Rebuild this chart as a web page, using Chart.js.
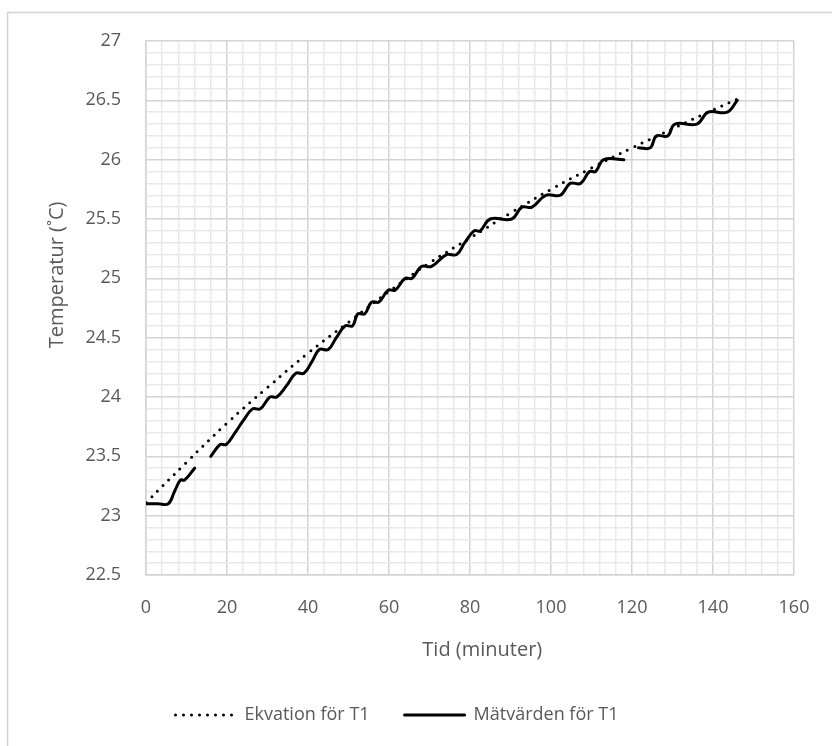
<!DOCTYPE html>
<html><head><meta charset="utf-8">
<script src="https://cdn.jsdelivr.net/npm/chart.js@4/dist/chart.umd.min.js"></script>
<style>html,body{margin:0;padding:0;background:#fff}</style>
</head><body>
<canvas id="c" width="832" height="746"></canvas>
<script>
// Fitted equation (dotted)
const eqTime = [0, 10, 20, 30, 40, 50, 60, 70, 80, 90, 100, 110, 120, 130, 140, 146];
const eqTemp = [23.11, 23.45, 23.78, 24.08, 24.37, 24.63, 24.89, 25.13, 25.34, 25.55, 25.75, 25.93, 26.10, 26.26, 26.42, 26.51];

// Measured values (solid), null = gap in the recording
const measTime = [0, 3, 5.5, 7, 8.5, 9.5, 12, 14,
  16, 18.3, 19.8, 22, 24, 26.3, 28.2, 30.6, 32.3, 34.8, 37, 39, 41, 42.8, 45, 47, 49.2, 51,
  52.3, 54, 55.7, 57.5, 59.8, 61.5, 64, 65.7, 68, 70.5, 74.2, 76.7, 78.7, 81, 82.5, 85, 90.3,
  92.8, 95.3, 98.7, 102.3, 104.7, 107.3, 109.5, 111, 113, 118, 120,
  121.6, 124.5, 126, 128.8, 130.6, 136, 138.8, 143.5, 146];
const measTemp = [23.1, 23.1, 23.1, 23.2, 23.3, 23.3, 23.4, null,
  23.5, 23.6, 23.6, 23.7, 23.8, 23.9, 23.9, 24.0, 24.0, 24.1, 24.2, 24.2, 24.3, 24.4, 24.4, 24.5, 24.6, 24.6,
  24.7, 24.7, 24.8, 24.8, 24.9, 24.9, 25.0, 25.0, 25.1, 25.1, 25.2, 25.2, 25.3, 25.4, 25.4, 25.5, 25.5,
  25.6, 25.6, 25.7, 25.7, 25.8, 25.8, 25.9, 25.9, 26.0, 26.0, null,
  26.1, 26.1, 26.2, 26.2, 26.3, 26.3, 26.4, 26.4, 26.5];

const seriesLabels = ['Ekvation för T1', 'Mätvärden för T1'];
const xTitle = 'Tid (minuter)';
const yTitle = 'Temperatur (˚C)';
const xMin = 0, xMax = 160, xMinorStep = 4, xMajorStep = 20;
const yMin = 22.5, yMax = 27, yMinorStep = 0.1, yMajorStep = 0.5;

const TEXT = '#595959';
const FAMILY = "'Open Sans', 'Noto Sans', sans-serif";
const FONT = {family: FAMILY, size: 18};
const TITLE_FONT = {family: FAMILY, size: 20};
const MAJOR = '#d4d4d4', MINOR = '#e9e9e9';
const isMajor = (v, m) => Math.abs(v / m - Math.round(v / m)) < 1e-6;
const fmt = v => String(Number(v.toFixed(2)));

const frame = {
  id: 'frame',
  beforeDraw(chart) {
    const c = chart.ctx;
    c.save();
    c.fillStyle = '#fff';
    c.fillRect(0, 0, chart.width, chart.height);
    c.strokeStyle = MAJOR;
    c.lineWidth = 1.5;
    c.beginPath();
    c.moveTo(7.5, chart.height);
    c.lineTo(7.5, 12.5);
    c.lineTo(chart.width, 12.5);
    c.stroke();
    c.restore();
  },
  // axis titles placed where the reference has them
  afterDraw(chart) {
    const c = chart.ctx, a = chart.chartArea;
    c.save();
    c.fillStyle = TEXT;
    c.font = TITLE_FONT.size + 'px ' + FAMILY;
    c.textAlign = 'center';
    c.textBaseline = 'middle';
    c.fillText(xTitle, a.left + (a.right - a.left) * 0.519, a.bottom + 75);
    c.translate(57, a.top + (a.bottom - a.top) * 0.438);
    c.rotate(-Math.PI / 2);
    c.fillText(yTitle, 0, 0);
    c.restore();
  }
};

new Chart(document.getElementById('c'), {
  type: 'line',
  data: {
    datasets: [
      {
        label: seriesLabels[0],
        data: eqTime.map((t, i) => ({x: t, y: eqTemp[i]})),
        borderColor: '#000', backgroundColor: '#000',
        borderWidth: 3, borderDash: [0, 8], borderCapStyle: 'round',
        pointRadius: 0, tension: 0.4, fill: false
      },
      {
        label: seriesLabels[1],
        data: measTime.map((t, i) => ({x: t, y: measTemp[i]})),
        borderColor: '#000', backgroundColor: '#000',
        borderWidth: 3, borderCapStyle: 'round', borderJoinStyle: 'round',
        pointRadius: 0, tension: 0.4, spanGaps: false, fill: false
      }
    ]
  },
  options: {
    responsive: false, animation: false, devicePixelRatio: 1,
    layout: {padding: {left: 0, right: 38, top: 41, bottom: 12}},
    plugins: {
      tooltip: {enabled: false},
      legend: {
        position: 'bottom',
        labels: {
          color: TEXT, font: FONT, padding: 35,
          usePointStyle: true, pointStyleWidth: 60, boxHeight: 18,
          generateLabels(chart) {
            const items = Chart.defaults.plugins.legend.labels.generateLabels(chart);
            items.forEach(it => {
              const ds = chart.data.datasets[it.datasetIndex];
              it.pointStyle = 'line';
              it.lineDash = ds.borderDash || [];
              it.lineWidth = ds.borderWidth;
              it.lineCap = ds.borderCapStyle;
              it.strokeStyle = ds.borderColor;
            });
            return items;
          }
        }
      }
    },
    scales: {
      x: {
        type: 'linear', min: xMin, max: xMax,
        ticks: {stepSize: xMinorStep, autoSkip: false, maxRotation: 0, padding: 22,
          color: TEXT, font: FONT, callback: v => isMajor(v, xMajorStep) ? fmt(v) : ''},
        grid: {drawTicks: false, lineWidth: 1.5,
          color: c => (c.tick && isMajor(c.tick.value, xMajorStep)) ? MAJOR : MINOR},
        border: {color: MAJOR, width: 1.5},
        title: {display: false, text: xTitle},
        afterFit(s) { s.height = 96; }
      },
      y: {
        type: 'linear', min: yMin, max: yMax,
        ticks: {stepSize: yMinorStep, autoSkip: false, padding: 25,
          color: TEXT, font: FONT, callback: v => isMajor(v, yMajorStep) ? fmt(v) : ''},
        grid: {drawTicks: false, lineWidth: 1.5,
          color: c => (c.tick && isMajor(c.tick.value, yMajorStep)) ? MAJOR : MINOR},
        border: {color: MAJOR, width: 1.5},
        title: {display: false, text: yTitle},
        afterFit(s) { s.width = 146; }
      }
    }
  },
  plugins: [frame]
});
</script>
</body></html>
